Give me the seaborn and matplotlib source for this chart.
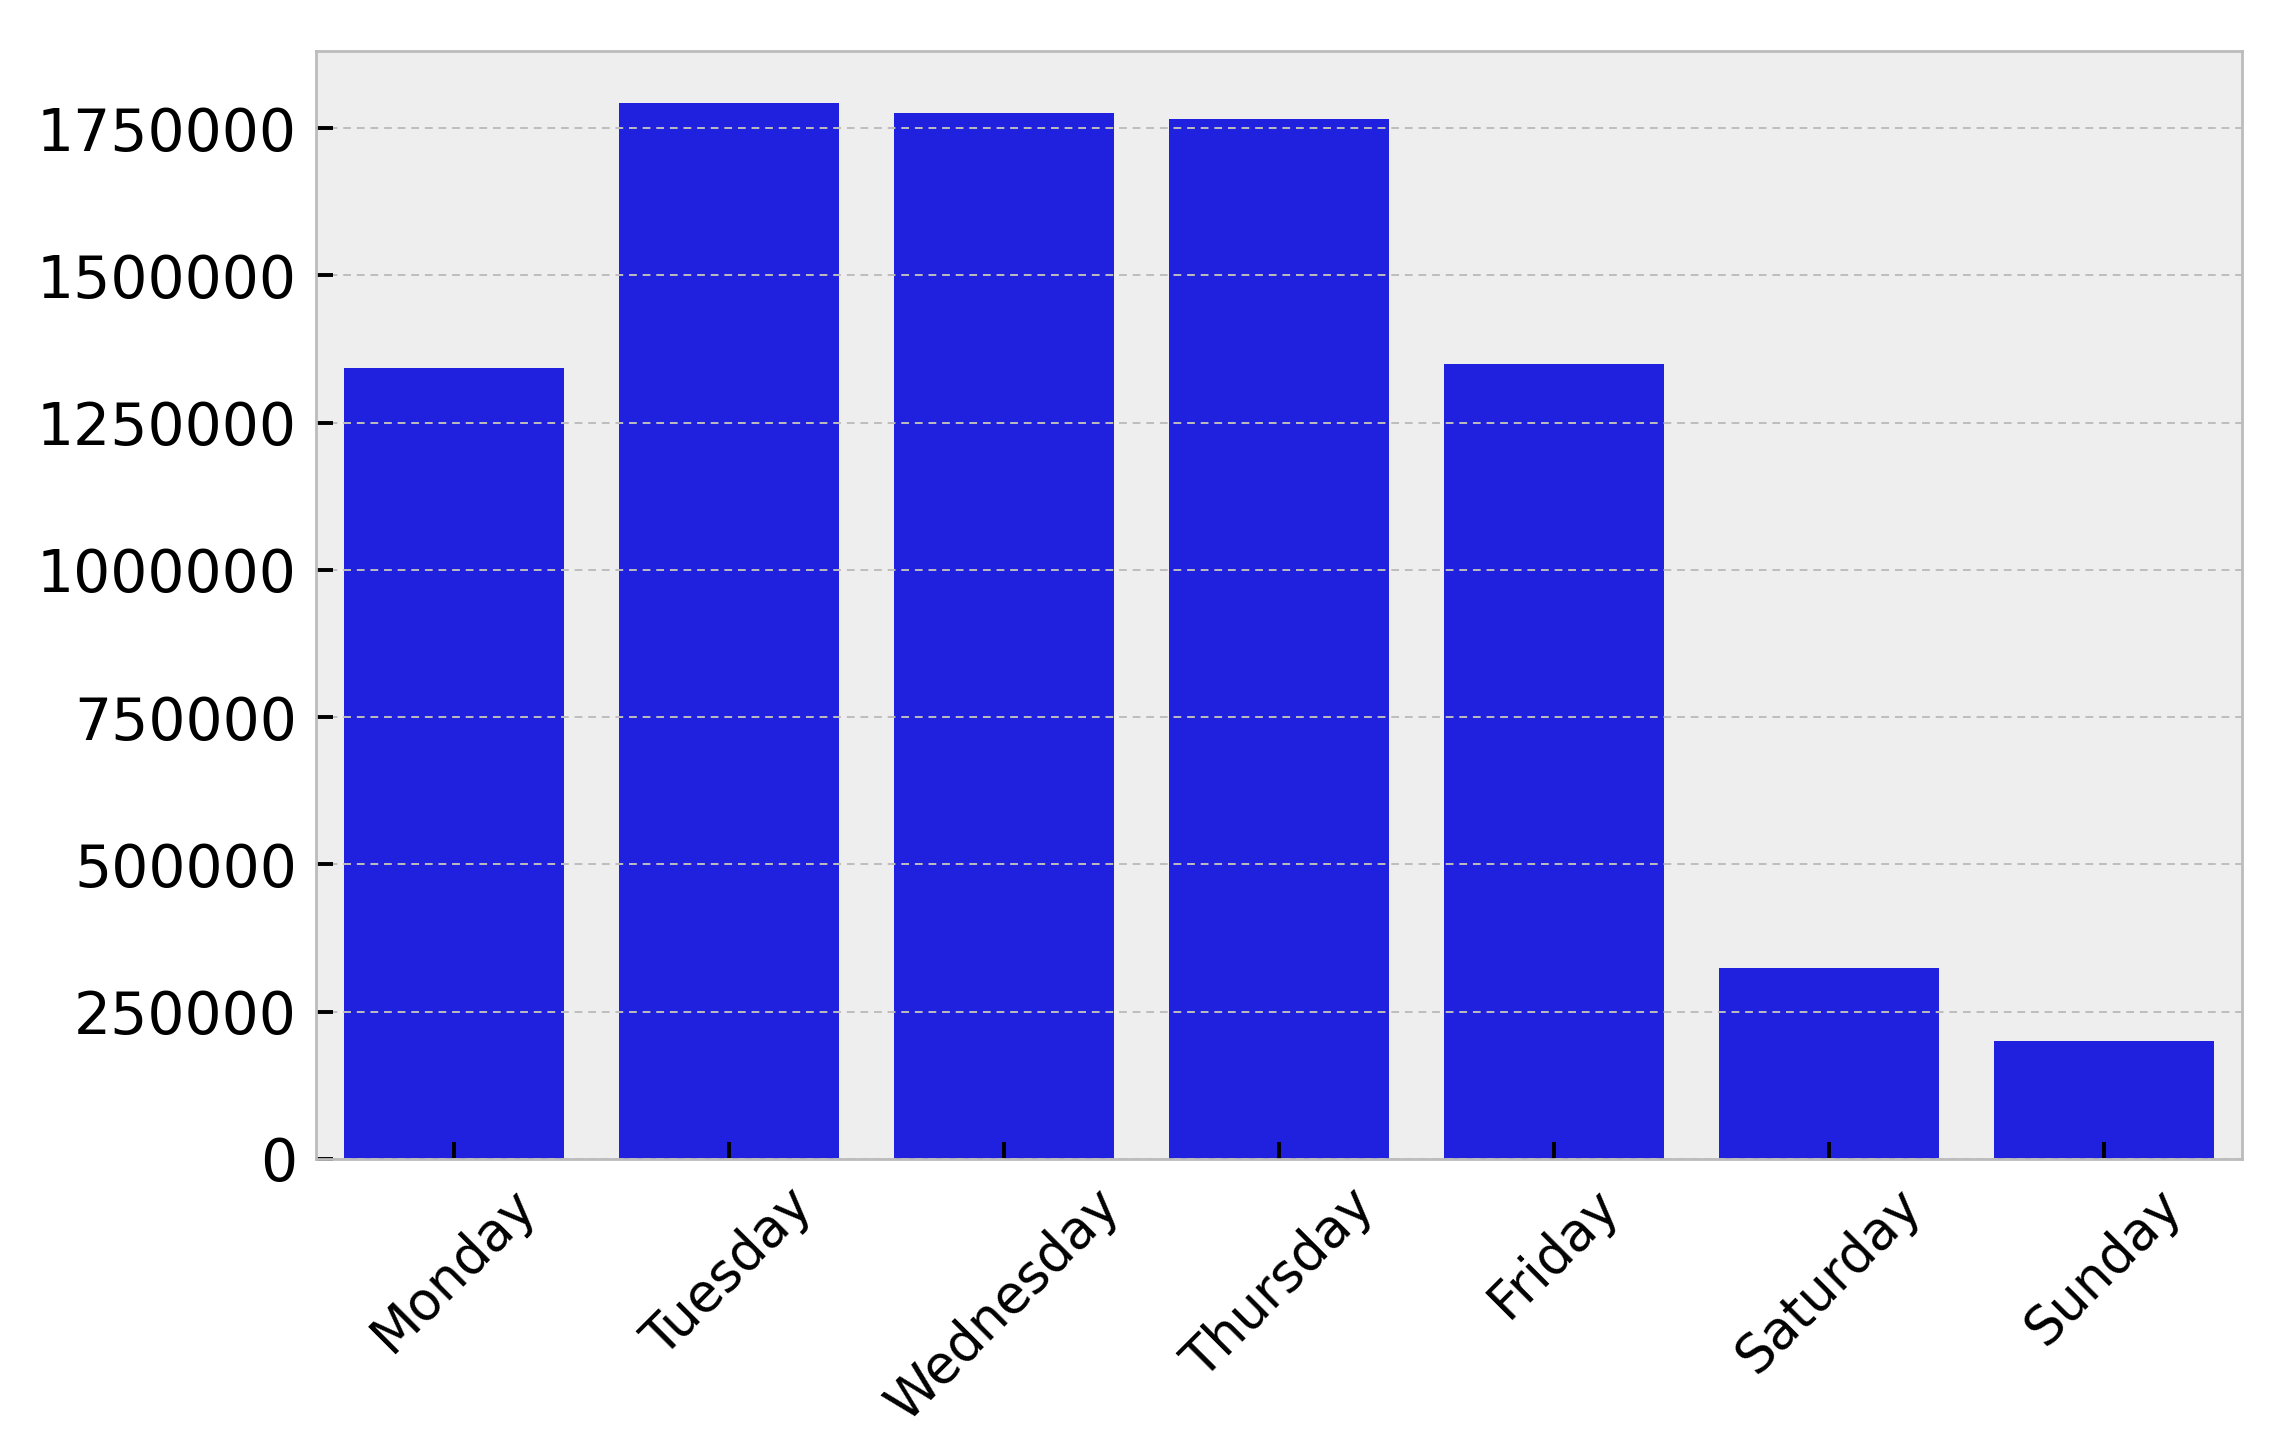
import matplotlib
matplotlib.use("Agg")
import matplotlib.pyplot as plt
import seaborn as sns

DAYS = ["Monday", "Tuesday", "Wednesday", "Thursday", "Friday", "Saturday", "Sunday"]
COUNTS = [1343000, 1792000, 1775000, 1765000, 1350000, 325000, 201000]

plt.style.use("bmh")
plt.rcParams["font.family"] = ["DejaVu Sans"]

fig = plt.figure(figsize=(11.46, 7.23), dpi=200)
ax = fig.add_axes([0.138, 0.1985, 0.840, 0.7665])

sns.barplot(x=DAYS, y=COUNTS, color="blue", ax=ax)

ax.grid(axis="y", color="#bdbdbd", linestyle=(0, (4, 3)), linewidth=0.7)
ax.grid(axis="x", visible=False)
for s in ax.spines.values():
    s.set_color("#bcbcbc")
    s.set_linewidth(1.0)

ax.tick_params(axis="both", direction="in", length=6, width=1.4, colors="black", pad=7)
ax.tick_params(axis="y", labelsize=21)
ax.tick_params(axis="x", labelsize=19)
ax.ticklabel_format(axis="y", style="plain")
plt.setp(ax.get_xticklabels(), rotation=45, ha="center")
ax.set_xlabel("")
ax.set_ylabel("")

fig.savefig("out.png", dpi=200)
